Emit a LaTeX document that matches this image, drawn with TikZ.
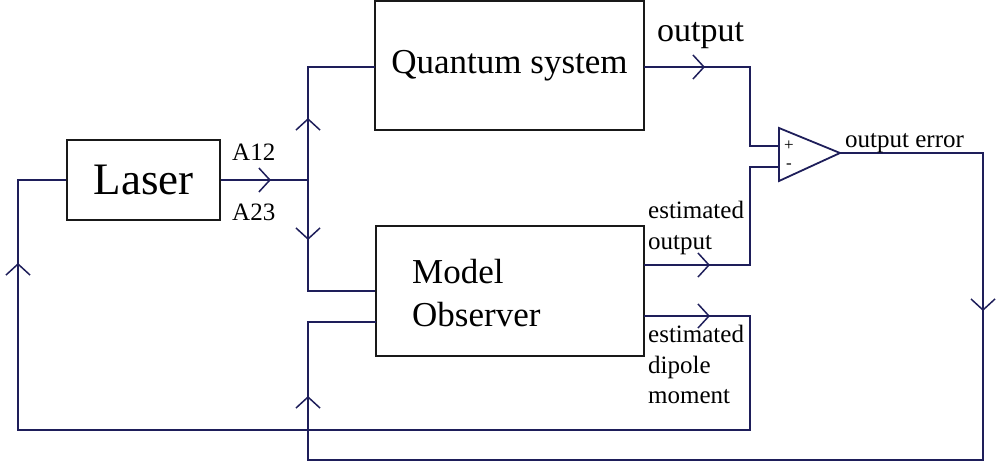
\documentclass[tikz,border=0pt]{standalone}
\usepackage{fontspec}
\setmainfont{Liberation Serif}
\usetikzlibrary{arrows.meta,decorations.markings}
\definecolor{wire}{HTML}{1E1E5A}
\tikzset{
  chev/.tip={Straight Barb[length=11pt,width=24pt,line width=1.5pt]},
  wire/.style={draw=wire,line width=1.8pt},
  blk/.style={draw=black!90,line width=1.8pt,inner sep=0pt},
  arr/.style={postaction={decorate,decoration={markings,mark=at position #1 with {\arrow{chev}}}}},
  arrs/.style 2 args={postaction={decorate,decoration={markings,
      mark=at position #1 with {\arrow{chev}},mark=at position #2 with {\arrow{chev}}}}},
  small/.style={font=\fontsize{25}{27}\selectfont,anchor=base west,inner sep=0pt},
  big/.style={font=\fontsize{35}{37}\selectfont,anchor=base west,inner sep=0pt},
}
\begin{document}
\begin{tikzpicture}[x=1pt,y=-1pt]
\useasboundingbox (0,0) rectangle (996,464);
% blocks
\node[blk,minimum width=269pt,minimum height=129pt,font=\fontsize{35}{37}\selectfont] (qs) at (509.5,65.5) {Quantum system};
\node[blk,minimum width=153pt,minimum height=80pt,font=\fontsize{45}{47}\selectfont] (laser) at (143.5,180) {Laser};
\node[blk,minimum width=268pt,minimum height=130pt] (mo) at (510,291) {};
\node[big] (tmodel) at (412,283) {Model};
\node[big] (tobs) at (412,326) {Observer};
% comparator
\coordinate (oa1) at (779,128);
\coordinate (oa2) at (779,181);
\coordinate (oaout) at (840,153);
\coordinate (oap) at (779,146);
\coordinate (oam) at (779,167);
\draw[wire,line join=miter] (oa1) -- (oaout) -- (oa2) -- cycle;
\node[font=\fontsize{17}{17}\selectfont,inner sep=0pt] (plus) at (789,146) {+};
\node[font=\fontsize{17}{17}\selectfont,inner sep=0pt] (minus) at (789,166) {-};
% junction and connection points
\coordinate (jn) at (308,180);
\coordinate (jtop) at (308,67);
\coordinate (jbot) at (308,291);
\coordinate (qsin) at (375,67);
\coordinate (qsout) at (644,67);
\coordinate (moout1) at (644,265);
\coordinate (moout2) at (644,316);
\coordinate (moin2) at (376,322);
\coordinate (c1) at (750,67);
\coordinate (c2) at (750,265);
\coordinate (c3) at (750,430);
\coordinate (fbR) at (983,460);
\coordinate (fbL) at (308,322);
\coordinate (lbL) at (18,180);
% connectors
\draw[wire,arr=50pt] (laser.east) -- (jn);
\draw[wire,arr=62pt] (jn) -- (jtop) -- (qsin);
\draw[wire,arr=60pt] (jn) -- (jbot) -- (mo.west);
\draw[wire,arr=61pt] (qsout) -- (c1) |- (oap);
\draw[wire,arr=66pt] (moout1) -- (c2) |- (oam);
\draw[wire,arrs={301pt}{1189pt}] (oaout) -| (fbR) -| (fbL) -- (moin2);
\draw[wire,arrs={66pt}{1119pt}] (moout2) -| (c3) -| (lbL) -- (laser.west);
% labels
\node[small] (la12) at (232,160) {A12};
\node[small] (la23) at (232,220) {A23};
\node[font=\fontsize{34}{36}\selectfont,anchor=base west,inner sep=0pt] (lout) at (657,41) {output};
\node[small] (lerr) at (845,147) {output error};
\node[small] (le1) at (648,218) {estimated};
\node[small] (le2) at (648,249) {output};
\node[small] (ld1) at (648,342) {estimated};
\node[small] (ld2) at (648,373) {dipole};
\node[small] (ld3) at (648,403) {moment};
\end{tikzpicture}
\end{document}
